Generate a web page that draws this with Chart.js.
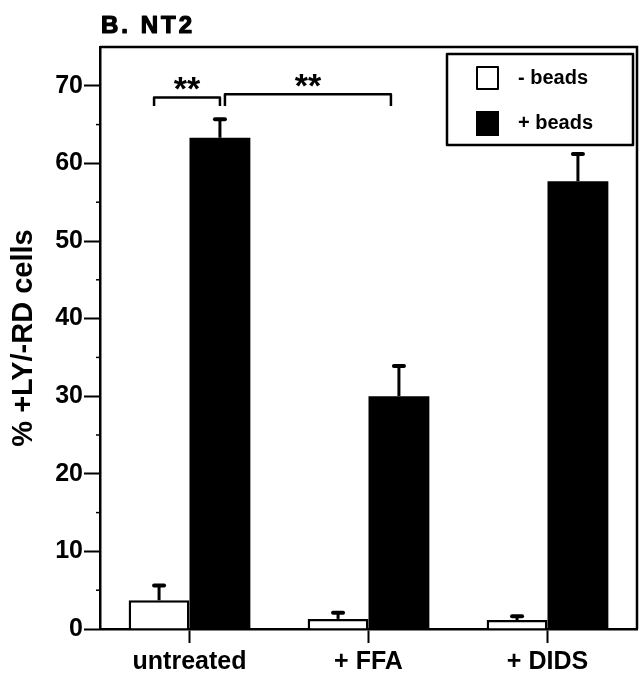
<!DOCTYPE html>
<html>
<head>
<meta charset="utf-8">
<script src="https://cdn.jsdelivr.net/npm/chart.js@4/dist/chart.umd.min.js"></script>
<style>
  html, body { margin: 0; padding: 0; background: #fff; }
  canvas { display: block; }
</style>
</head>
<body>
<canvas id="chart" width="642" height="687"></canvas>
<script>
  // Donnees
  const categories = ["untreated", "+ FFA", "+ DIDS"];
  const seriesLabels = ["- beads", "+ beads"];
  const minusBeads = [3.7, 1.3, 1.15];
  const minusBeadsErr = [1.9, 0.8, 0.5];
  const plusBeads = [63.3, 30.0, 57.7];
  const plusBeadsErr = [2.4, 3.9, 3.5];
  const yTicks = [0, 10, 20, 30, 40, 50, 60, 70];
  const yMinorTicks = [5, 15, 25, 35, 45, 55, 65];
  // crochets de significativite : [dataset, categorie]
  const brackets = [
    { from: [0, 0], to: [1, 0], top: 68.5, foot: 67.4, label: "**" },
    { from: [1, 0], to: [1, 1], top: 68.9, foot: 67.4, label: "**" },
  ];

  const FONT = "'Liberation Sans', Arial, Helvetica, sans-serif";
  const errors = [minusBeadsErr, plusBeadsErr];

  const decorPlugin = {
    id: "decor",
    afterDatasetsDraw(chart) {
      const ctx = chart.ctx;
      const area = chart.chartArea;
      const y = chart.scales.y;
      ctx.save();
      ctx.strokeStyle = "#000";
      ctx.fillStyle = "#000";

      // barres d'erreur (vers le haut seulement)
      chart.data.datasets.forEach((ds, di) => {
        const meta = chart.getDatasetMeta(di);
        meta.data.forEach((bar, i) => {
          const top = y.getPixelForValue(ds.data[i]);
          const end = y.getPixelForValue(ds.data[i] + errors[di][i]);
          ctx.lineWidth = 3;
          ctx.lineCap = "butt";
          ctx.beginPath();
          ctx.moveTo(bar.x, top);
          ctx.lineTo(bar.x, end);
          ctx.stroke();
          ctx.lineWidth = 4;
          ctx.lineCap = "round";
          ctx.beginPath();
          ctx.moveTo(bar.x - 5, end);
          ctx.lineTo(bar.x + 5, end);
          ctx.stroke();
        });
      });

      // cadre du graphique
      ctx.lineWidth = 2.5;
      ctx.lineCap = "butt";
      ctx.beginPath();
      ctx.moveTo(area.left, area.top);
      ctx.lineTo(area.right, area.top);
      ctx.lineTo(area.right, area.bottom);
      ctx.stroke();

      // petites graduations
      ctx.lineWidth = 1.5;
      yMinorTicks.forEach((v) => {
        const py = y.getPixelForValue(v);
        ctx.beginPath();
        ctx.moveTo(area.left - 4, py);
        ctx.lineTo(area.left, py);
        ctx.stroke();
      });

      // crochets + etoiles
      brackets.forEach((b, k) => {
        const x1 = chart.getDatasetMeta(b.from[0]).data[b.from[1]].x + (k > 0 ? 5 : -5);
        const x2 = chart.getDatasetMeta(b.to[0]).data[b.to[1]].x - (k > 0 ? 8 : 0);
        const yt = y.getPixelForValue(b.top);
        const yf = y.getPixelForValue(b.foot);
        ctx.lineWidth = 2.5;
        ctx.lineJoin = "round";
        ctx.beginPath();
        ctx.moveTo(x1, yf);
        ctx.lineTo(x1, yt);
        ctx.lineTo(x2, yt);
        ctx.lineTo(x2, yf);
        ctx.stroke();
        ctx.font = `bold 34px ${FONT}`;
        ctx.textAlign = "center";
        ctx.textBaseline = "alphabetic";
        ctx.fillText(b.label, (x1 + x2) / 2, yt + 3);
      });

      // titre du panneau
      ctx.font = `bold 24px ${FONT}`;
      ctx.letterSpacing = "3px";
      ctx.textAlign = "left";
      ctx.textBaseline = "alphabetic";
      ctx.lineWidth = 1.2;
      ctx.lineJoin = "round";
      ctx.fillText("B. NT2", area.left + 1, 33);
      ctx.strokeText("B. NT2", area.left + 1, 33);
      ctx.letterSpacing = "0px";

      // legende encadree
      const lx = area.right - 190;
      const ly = area.top + 7;
      ctx.lineWidth = 2.5;
      ctx.strokeRect(lx, ly, 186, 91);
      ctx.font = `bold 20px ${FONT}`;
      ctx.textBaseline = "middle";
      chart.data.datasets.forEach((ds, di) => {
        const cy = ly + 24 + di * 45;
        if (di === 0) {
          ctx.fillStyle = "#fff";
          ctx.fillRect(lx + 30, cy - 11, 21, 22);
          ctx.lineWidth = 2;
          ctx.strokeRect(lx + 30, cy - 11, 21, 22);
        } else {
          ctx.fillStyle = "#000";
          ctx.fillRect(lx + 29, cy - 12, 23, 25);
        }
        ctx.fillStyle = "#000";
        ctx.fillText(ds.label, lx + 71, cy);
      });
      ctx.restore();
    },
  };

  new Chart(document.getElementById("chart"), {
    type: "bar",
    data: {
      labels: categories,
      datasets: [
        {
          label: seriesLabels[0],
          data: minusBeads,
          backgroundColor: "#fff",
          borderColor: "#000",
          borderWidth: 2.5,
          categoryPercentage: 0.68,
          barPercentage: 1.0,
        },
        {
          label: seriesLabels[1],
          data: plusBeads,
          backgroundColor: "#000",
          borderColor: "#000",
          borderWidth: 0,
          categoryPercentage: 0.68,
          barPercentage: 1.0,
        },
      ],
    },
    options: {
      responsive: false,
      devicePixelRatio: 1,
      animation: false,
      layout: { padding: { top: 47, right: 5, left: 0, bottom: 0 } },
      plugins: {
        legend: { display: false },
        title: { display: false },
        tooltip: { enabled: false },
      },
      scales: {
        x: {
          afterFit: (s) => { s.height = 58; },
          grid: {
            offset: false,
            drawOnChartArea: false,
            drawTicks: true,
            tickLength: 14,
            tickColor: "#000",
            tickWidth: 2,
          },
          border: { color: "#000", width: 2.5 },
          ticks: {
            color: "#000",
            padding: 4,
            font: { family: FONT, size: 25, weight: "bold" },
            maxRotation: 0,
          },
        },
        y: {
          min: 0,
          max: 75,
          afterFit: (s) => { s.width = 100; },
          afterBuildTicks: (s) => {
            s.ticks = yTicks.map((v) => ({ value: v }));
          },
          grid: {
            drawOnChartArea: false,
            drawTicks: true,
            tickLength: 16,
            tickColor: "#000",
            tickWidth: 2,
          },
          border: { color: "#000", width: 2.5 },
          ticks: {
            color: "#000",
            padding: 1,
            font: { family: FONT, size: 25, weight: "bold" },
          },
          title: {
            display: true,
            text: "% +LY/-RD cells",
            color: "#000",
            padding: { top: 7, bottom: 0 },
            font: { family: FONT, size: 29, weight: "bold" },
          },
        },
      },
    },
    plugins: [decorPlugin],
  });
</script>
</body>
</html>
